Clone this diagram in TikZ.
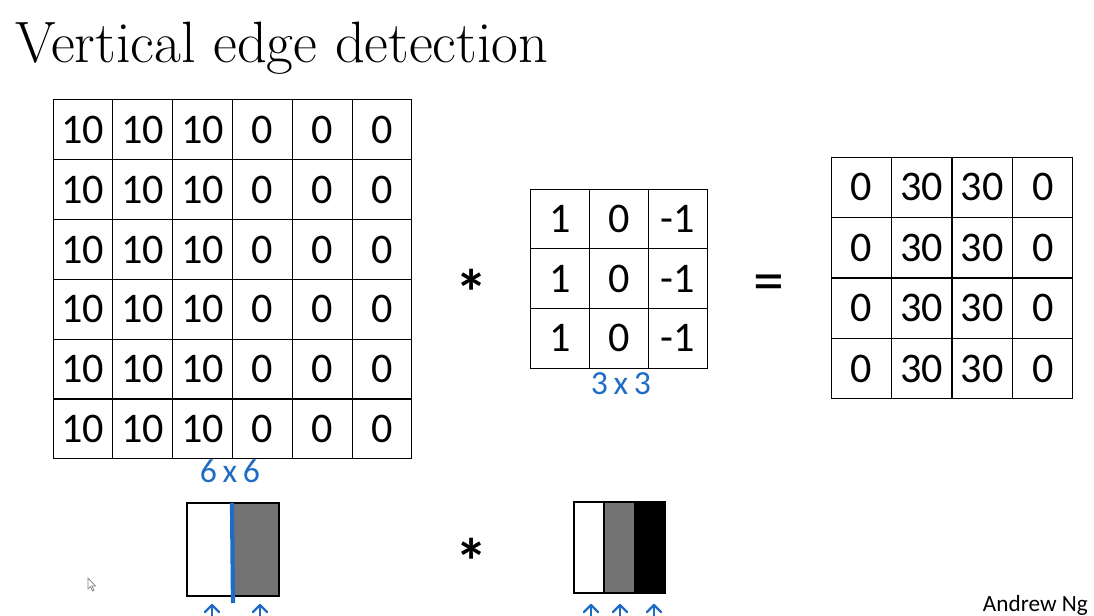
\documentclass[tikz,border=0pt]{standalone}
\usepackage{fontspec}
\setsansfont{Carlito}
\usepackage{tikz}
\usetikzlibrary{positioning,calc}
\definecolor{pen}{HTML}{1F6CC4}
\definecolor{mgrey}{HTML}{737373}
\tikzset{
  cellA/.style={draw,line width=0.7pt,inner sep=0pt,minimum width=1.495cm,minimum height=1.495cm,font=\sffamily\fontsize{30}{36}\selectfont},
  cellK/.style={cellA,minimum width=1.47cm,minimum height=1.49cm},
  cellO/.style={cellA,minimum width=1.51cm,minimum height=1.51cm},
  oper/.style={font=\sffamily\bfseries\fontsize{46}{50}\selectfont},
  hand/.style={text=pen,font=\sffamily\fontsize{24}{26}\selectfont},
  uparr/.style={pen,line width=1.6pt,line cap=round,line join=round}
}
\begin{document}
\begin{tikzpicture}[x=0.025cm,y=-0.025cm]
  \useasboundingbox (0,0) rectangle (1094,616);

  % title
  \node[anchor=base west,inner sep=0pt,font=\fontsize{41.5}{48}\selectfont] (title) at (15,63) {Vertical edge detection};

  % 6x6 input
  \foreach \r in {1,...,6}{
    \foreach \c/\v in {1/10,2/10,3/10,4/0,5/0,6/0}{
      \node[cellA] (in-\r-\c) at ({53+59.8*(\c-0.5)},{100+59.8*(\r-0.5)}) {\v};
    }
  }
  \node[hand] (sizeA) at (230,471) {6\,x\,6};

  % operators
  \node[oper] (conv) at (472,292) {*};
  \node[font=\sffamily\fontsize{44}{50}\selectfont] (eq) at (769,288) {=};

  % 3x3 filter
  \foreach \r in {1,2,3}{
    \foreach \c/\v in {1/1,2/0,3/-1}{
      \node[cellK] (k-\r-\c) at ({531+58.7*(\c-0.5)},{189+59.7*(\r-0.5)}) {\v};
    }
  }
  \node[hand] (sizeK) at (621,384) {3\,x\,3};

  % 4x4 output
  \foreach \r in {1,...,4}{
    \foreach \c/\v in {1/0,2/30,3/30,4/0}{
      \node[cellO] (out-\r-\c) at ({831+60.5*(\c-0.5)},{157+60.5*(\r-0.5)}) {\v};
    }
  }

  % image picture
  \fill[mgrey] (232,503) rectangle (279,596);
  \draw[line width=1.6pt] (187,503) rectangle (279,596);
  \draw[pen,line width=3pt] (232,503) -- (233,603);
  \foreach \x in {212,260}{
    \draw[uparr] (\x,616) -- (\x,606);
    \draw[uparr] (\x-7,612) -- (\x,605) -- (\x+7,612);
  }

  \node[oper] (conv2) at (472,561) {*};

  % filter picture
  \fill[mgrey] (604,502) rectangle (634,593);
  \fill[black] (634,502) rectangle (665,593);
  \draw[line width=1.6pt] (604,502) -- (604,593);
  \draw[line width=1.6pt] (574,502) rectangle (665,593);
  \foreach \x in {591,620,654}{
    \draw[uparr] (\x,616) -- (\x,606);
    \draw[uparr] (\x-7,612) -- (\x,605) -- (\x+7,612);
  }

  % cursor
  \draw[gray,line width=0.5pt,fill=white] (88,578) -- (88,589) -- (90.5,586.5) -- (92.5,591) -- (94,590.3) -- (92,586) -- (95.5,586) -- cycle;

  \node[anchor=base east,inner sep=0pt,font=\sffamily\fontsize{16.5}{20}\selectfont] (author) at (1088,611) {Andrew Ng};
\end{tikzpicture}
\end{document}
